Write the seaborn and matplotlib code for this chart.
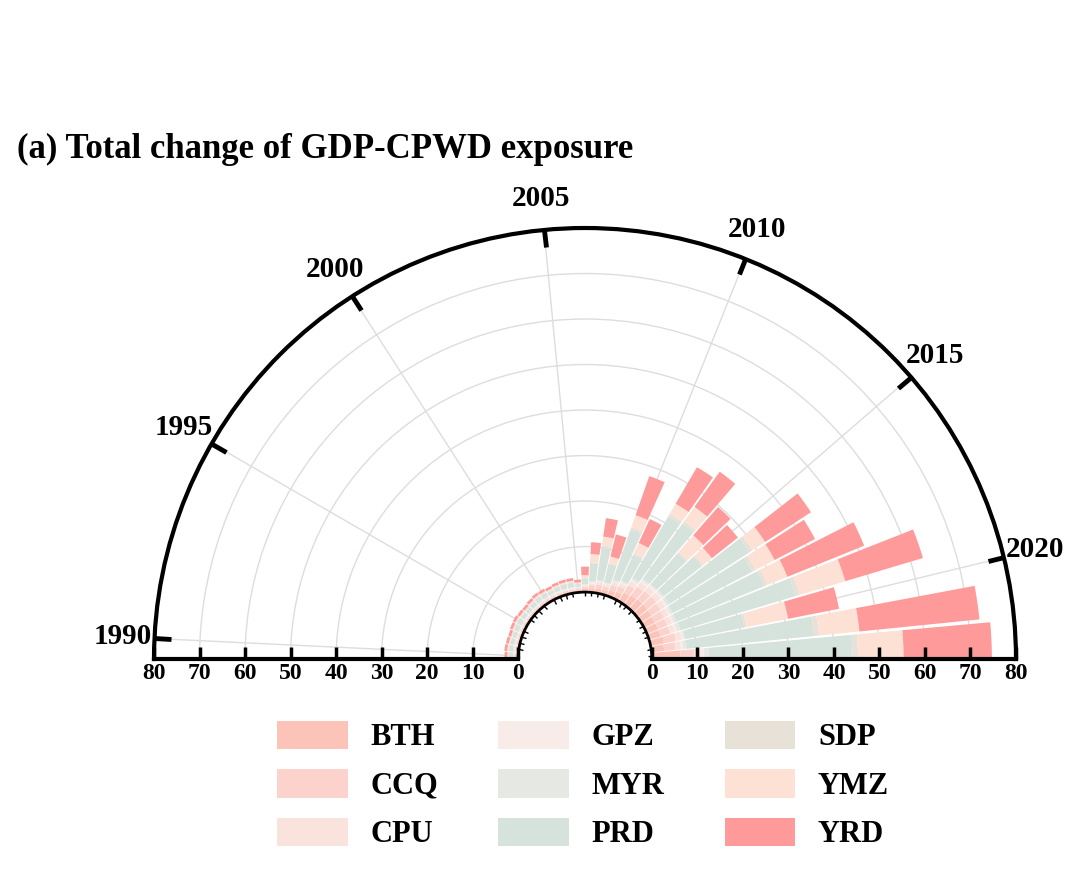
import numpy as np
import matplotlib
matplotlib.use('Agg')
import matplotlib.pyplot as plt
import matplotlib.markers as mmarkers
from matplotlib.patches import Patch
import seaborn as sns

years = list(range(1990, 2023))
regions = ['BTH', 'CCQ', 'CPU', 'GPZ', 'MYR', 'PRD', 'SDP', 'YMZ', 'YRD']
colors = ['#FCC4B9', '#FBD2CC', '#FAE2DD', '#F8ECE9', '#E6E8E3',
          '#D6E2DC', '#E7E1D8', '#FDE1D5', '#FE9B9A']

# exposure change per region, 1990..2022
BTH = [0.4, 0.4, 0.4, 0.4, 0.4, 0.4, 0.4, 0.4, 0.4, 0.5, 0.5, 0.5, 0.5, 0.5, 0.5, 0.5,
       0.7, 0.9, 1.0, 1.0, 1.4, 1.6, 2.2, 2.6, 2.8, 2.8, 2.7, 2.6, 2.6, 2.6, 3.0, 2.8, 6.3]
CCQ = [0.3, 0.3, 0.3, 0.3, 0.3, 0.3, 0.3, 0.3, 0.3, 0.3, 0.3, 0.3, 0.3, 0.3, 0.3, 0.3,
       0.5, 0.7, 0.9, 0.8, 1.2, 1.4, 1.9, 2.3, 2.4, 2.5, 2.4, 2.3, 2.2, 2.2, 2.6, 2.5, 3.0]
CPU = [0.2, 0.2, 0.2, 0.2, 0.2, 0.2, 0.2, 0.2, 0.2, 0.2, 0.2, 0.2, 0.2, 0.2, 0.2, 0.2,
       0.3, 0.4, 0.5, 0.5, 0.6, 0.7, 1.0, 1.2, 1.2, 1.2, 1.2, 1.1, 1.1, 1.1, 1.3, 1.2, 1.5]
GPZ = [0.1, 0.1, 0.1, 0.1, 0.1, 0.1, 0.1, 0.1, 0.1, 0.1, 0.1, 0.1, 0.1, 0.1, 0.1, 0.1,
       0.1, 0.2, 0.2, 0.2, 0.3, 0.3, 0.4, 0.5, 0.5, 0.5, 0.5, 0.5, 0.5, 0.5, 0.5, 0.5, 0.7]
MYR = [0.2, 0.2, 0.2, 0.2, 0.2, 0.2, 0.2, 0.2, 0.2, 0.2, 0.2, 0.2, 0.2, 0.2, 0.2, 0.2,
       0.1, 0.2, 0.3, 0.2, 0.4, 0.3, 0.5, 0.5, 0.3, 0.4, 0.6, 0.6, 0.6, 0.8, 0.4, 0.8, 1.0]
PRD = [0.8, 0.9, 0.8, 0.7, 0.9, 1.0, 0.8, 0.7, 0.9, 1.0, 0.9, 0.7, 0.9, 1.0, 1.0, 0.5,
       1.3, 4.0, 7.4, 4.1, 11.6, 6.3, 15.6, 14.9, 9.0, 10.7, 21.0, 19.7, 20.8, 26.4, 13.2, 28.1, 31.6]
SDP = [0.1, 0.1, 0.1, 0.1, 0.1, 0.1, 0.1, 0.1, 0.1, 0.1, 0.1, 0.1, 0.1, 0.1, 0.1, 0.1,
       0.1, 0.2, 0.3, 0.2, 0.5, 0.3, 0.6, 0.6, 0.4, 0.4, 0.8, 0.8, 0.8, 1.0, 0.5, 1.1, 1.2]
YMZ = [0.3, 0.3, 0.3, 0.3, 0.3, 0.3, 0.3, 0.3, 0.3, 0.3, 0.3, 0.3, 0.3, 0.3, 0.3, 0.3,
       0.6, 1.8, 1.9, 1.5, 2.8, 2.5, 2.6, 3.9, 4.8, 2.4, 3.3, 4.7, 4.7, 10.4, 9.3, 8.9, 10.0]
YRD = [0.6, 0.6, 0.6, 0.6, 0.6, 0.6, 0.6, 0.6, 0.6, 0.6, 0.6, 0.6, 0.6, 0.6, 0.6, 0.6,
       1.9, 2.6, 4.1, 5.0, 9.1, 5.8, 9.3, 9.5, 8.3, 7.3, 12.0, 10.0, 18.2, 17.8, 11.4, 26.5, 19.4]

label_years = [1990, 1995, 2000, 2005, 2010, 2015, 2020]
r_ticks = [0, 10, 20, 30, 40, 50, 60, 70, 80]

sns.set_style('white')
plt.rcParams['font.family'] = ['Liberation Serif', 'DejaVu Serif']
plt.rcParams['font.weight'] = 'bold'
plt.rcParams['text.color'] = 'black'
plt.rcParams['xtick.color'] = 'black'
plt.rcParams['ytick.color'] = 'black'

data = np.array([BTH, CCQ, CPU, GPZ, MYR, PRD, SDP, YMZ, YRD])
palette = sns.color_palette(colors)

fig = plt.figure(figsize=(10.8, 8.91), dpi=100)
# square box; the half disc sits in its middle band
ax = fig.add_axes([154 / 1080, 16.5 / 891, 862 / 1080, 862 / 891], projection='polar')

slot = np.pi / len(years)
theta = np.pi - (np.arange(len(years)) + 0.5) * slot

bottom = np.zeros(len(years))
for name, vals, c in zip(regions, data, palette):
    ax.bar(theta, vals, width=slot * 0.9, bottom=bottom, color=c,
           edgecolor='none', align='center', zorder=2)
    bottom += vals

ax.set_thetamin(0)
ax.set_thetamax(180)
ax.set_ylim(0, 80)
ax.set_rorigin(-14.7)
ax.set_axisbelow(True)

# theta axis: year labels on outer arc, small ticks on inner arc
lab_idx = [years.index(y) for y in label_years]
ax.set_xticks(theta[lab_idx])
ax.set_xticklabels([str(y) for y in label_years], fontsize=21, fontweight='bold')
ax.set_xticks(theta, minor=True)
ax.tick_params(axis='x', which='major', direction='in', length=12, width=3.5,
               pad=16, bottom=False, top=True, color='black')
ax.tick_params(axis='x', which='minor', direction='out', length=3, width=1,
               bottom=True, top=False, color='black')
ax.xaxis.grid(True, which='major', color='#dddddd', lw=1)
ax.xaxis.grid(False, which='minor')

# radial axis
ax.set_yticks(r_ticks)
ax.set_yticklabels([])
ax.tick_params(axis='y', length=0)
ax.yaxis.grid(True, color='#dddddd', lw=1)

for side in [0, np.pi]:
    ax.plot(np.full(len(r_ticks), side), r_ticks, ls='none', marker=mmarkers.TICKUP,
            ms=9, mew=2.5, color='black', clip_on=False, zorder=5)
    for r in r_ticks:
        ax.annotate(str(r), xy=(side, r), xytext=(0, -3), textcoords='offset points',
                    ha='center', va='top', fontsize=17, fontweight='bold',
                    annotation_clip=False)

ax.spines['polar'].set_linewidth(3)
ax.spines['start'].set_linewidth(3)
ax.spines['end'].set_linewidth(3)
ax.spines['inner'].set_linewidth(2)
for s in ax.spines.values():
    s.set_color('black')

fig.text(17 / 1080, 0.8227, '(a) Total change of GDP-CPWD exposure',
         fontsize=25, fontweight='bold', ha='left', va='baseline')

handles = [Patch(facecolor=c, edgecolor='none') for c in palette]
fig.legend(handles, regions, ncol=3, loc='center', bbox_to_anchor=(0.54, 0.119),
           frameon=False, prop={'size': 22, 'weight': 'bold'},
           handlelength=2.3, handleheight=1.05, handletextpad=0.75,
           columnspacing=1.97, labelspacing=0.55)

fig.savefig('out.png', dpi=100)
